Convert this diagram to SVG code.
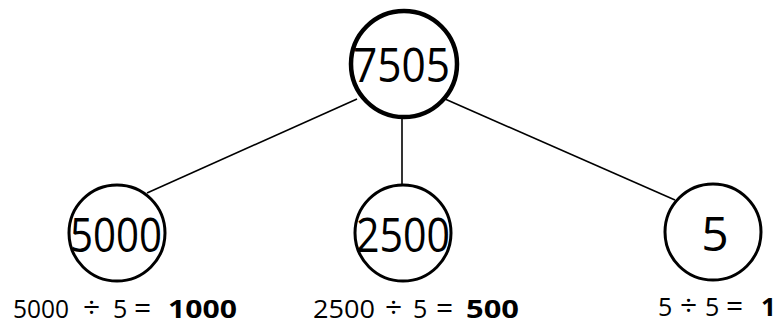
<svg xmlns="http://www.w3.org/2000/svg" width="779" height="326" viewBox="0 0 779 326">
<style>
.node{fill:none;stroke:#000;stroke-width:3}
.root{stroke-width:4.5}
.num{font-family:"Open Sans","Liberation Sans",sans-serif;font-size:48px;fill:#000}
.lbl{font-family:"Open Sans","Liberation Sans",sans-serif;font-size:25px;fill:#000}
.op{font-size:30px}
.b{font-weight:bold}
.conn{stroke:#000;stroke-width:1.6;fill:none}
</style>
<rect width="779" height="326" fill="#fff"/>
<g id="connectors">
<line class="conn" x1="147" y1="193" x2="357" y2="99"/>
<line class="conn" x1="402" y1="118" x2="402" y2="184"/>
<line class="conn" x1="675" y1="200" x2="445" y2="99"/>
</g>
<g id="node-7505">
<circle class="node root" cx="404" cy="64" r="53"/>
<text class="num" x="353" y="82" textLength="97" lengthAdjust="spacingAndGlyphs">7505</text>
</g>
<g id="node-5000">
<circle class="node" cx="117" cy="233" r="48"/>
<text class="num" x="70" y="252" textLength="92" lengthAdjust="spacingAndGlyphs">5000</text>
<text class="lbl" y="318"><tspan x="13" textLength="56" lengthAdjust="spacingAndGlyphs">5000</tspan><tspan class="op" x="83">÷</tspan><tspan x="113">5</tspan><tspan class="op" x="134">=</tspan><tspan class="b" x="168" textLength="69" lengthAdjust="spacingAndGlyphs">1000</tspan></text>
</g>
<g id="node-2500">
<circle class="node" cx="403" cy="233" r="48"/>
<text class="num" x="356" y="252" textLength="94" lengthAdjust="spacingAndGlyphs">2500</text>
<text class="lbl" y="318"><tspan x="313" textLength="62" lengthAdjust="spacingAndGlyphs">2500</tspan><tspan class="op" x="385">÷</tspan><tspan x="413">5</tspan><tspan class="op" x="436">=</tspan><tspan class="b" x="466" textLength="53" lengthAdjust="spacingAndGlyphs">500</tspan></text>
</g>
<g id="node-5">
<circle class="node" cx="713" cy="232" r="48"/>
<text class="num" x="715" y="251" text-anchor="middle">5</text>
<text class="lbl" y="316"><tspan x="658">5</tspan><tspan class="op" x="680">÷</tspan><tspan x="705">5</tspan><tspan class="op" x="726">=</tspan><tspan class="b" x="761" textLength="15" lengthAdjust="spacingAndGlyphs">1</tspan></text>
</g>
</svg>
